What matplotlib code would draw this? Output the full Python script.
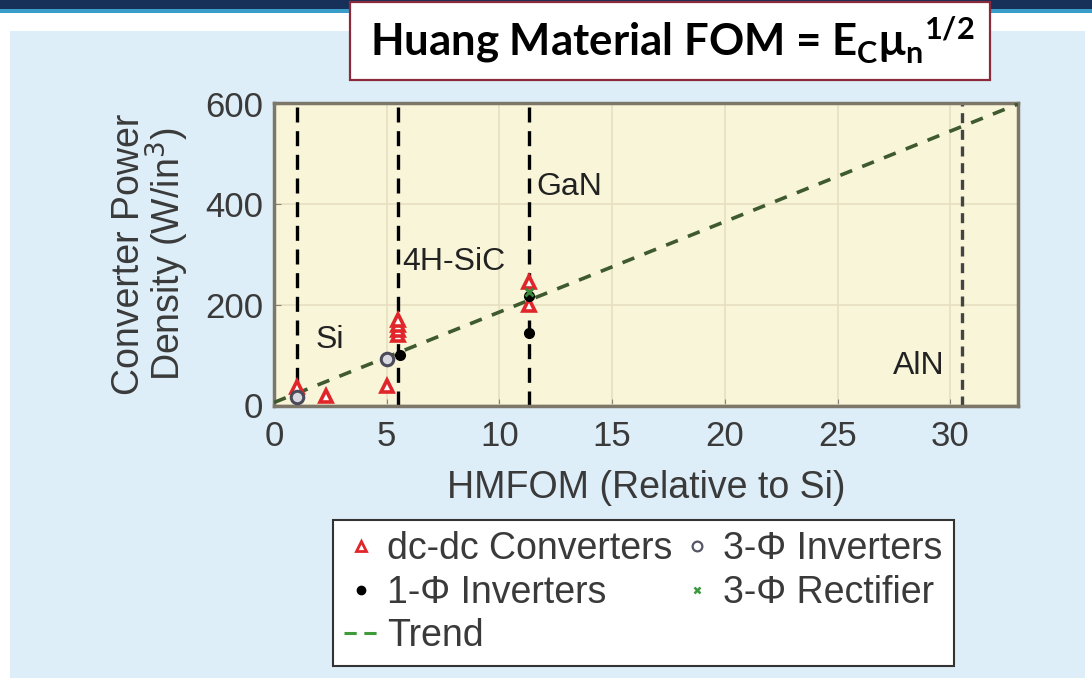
import matplotlib
matplotlib.use("Agg")
import matplotlib.pyplot as plt
from matplotlib.patches import Rectangle
from matplotlib.lines import Line2D

# ---------------- data ----------------
dcdc_x = [1.0, 2.3, 5.0, 5.5, 5.5, 5.5, 5.5, 11.3, 11.3]
dcdc_y = [35, 18, 38, 140, 150, 160, 170, 200, 245]
inv3_x = [1.0, 5.0]
inv3_y = [15, 92]
inv1_x = [5.6, 11.3, 11.3]
inv1_y = [100, 143, 218]
rect3_x = [11.3]
rect3_y = [226]
trend_x = [0, 33]
trend_y = [5, 600]
material_names = ["Si", "4H-SiC", "GaN", "AlN"]
material_x = [1.0, 5.5, 11.3, 30.5]
xticks = [0, 5, 10, 15, 20, 25, 30]
yticks = [0, 200, 400, 600]

plt.rcParams['font.family'] = ['Liberation Sans', 'DejaVu Sans']
txt = '#3a3a3a'
W, H = 1092, 678

fig = plt.figure(figsize=(10.92, 6.78), dpi=100)
fig.patch.set_facecolor('white')

# slide background decorations
fig.add_artist(Rectangle((0, 1 - 9 / H), 1, 9 / H, transform=fig.transFigure,
                         facecolor='#16305a', edgecolor='none', zorder=0))
fig.add_artist(Rectangle((0, 1 - 13 / H), 1, 4 / H, transform=fig.transFigure,
                         facecolor='#3a9cc8', edgecolor='none', zorder=0))
fig.add_artist(Rectangle((10 / W, 0), 1075 / W, 1 - 31 / H, transform=fig.transFigure,
                         facecolor='#deeef8', edgecolor='none', zorder=0))

ax = fig.add_axes([274 / W, 1 - 406 / H, (1018 - 274) / W, (406 - 103) / H])
ax.set_facecolor('#f8f5d9')
ax.set_xlim(0, 33)
ax.set_ylim(-2, 602)
ax.set_xticks(xticks)
ax.set_yticks(yticks)
ax.grid(True, color='#e6dfc0', lw=1.2)
ax.set_axisbelow(True)
for s in ax.spines.values():
    s.set_color('#7d776a')
    s.set_linewidth(2.5)
ax.tick_params(direction='in', length=5, color='#8a8478', labelsize=25, labelcolor=txt)
ax.tick_params(axis='x', pad=10)
ax.tick_params(axis='y', pad=8)

# vertical material lines
for name, xv in zip(material_names, material_x):
    if name == 'AlN':
        ax.axvline(xv, color='#444444', lw=2.4, dashes=(3.0, 2.0), zorder=2)
    else:
        ax.axvline(xv, color='black', lw=2.4, dashes=(4.5, 2.6), zorder=2)

# trend
ax.plot(trend_x, trend_y, color='#3f5a2e', lw=2.6, dashes=(3.5, 3.0), zorder=3)

# data markers
ax.plot(dcdc_x, dcdc_y, ls='none', marker='^', ms=9, mfc='white', mec='#e0262a', mew=2.6, zorder=4)
ax.plot(inv3_x, inv3_y, ls='none', marker='o', ms=9, mfc='#d8d8e0', mec='#4a4a5a', mew=2.2, zorder=4)
ax.plot(inv1_x, inv1_y, ls='none', marker='o', ms=7, mfc='black', mec='black', zorder=5)
ax.plot(rect3_x, rect3_y, ls='none', marker='x', ms=6, mec='#3a8a3a', mew=2, zorder=5)

# material labels
lab_fs = 23
ax.text(1.85, 130, 'Si', fontsize=lab_fs, color='#222222', ha='left', va='center')
ax.text(5.7, 285, '4H-SiC', fontsize=lab_fs, color='#222222', ha='left', va='center')
ax.text(11.65, 435, 'GaN', fontsize=lab_fs, color='#222222', ha='left', va='center')
ax.text(29.75, 77, 'AlN', fontsize=lab_fs, color='#222222', ha='right', va='center')

ax.set_xlabel('HMFOM (Relative to Si)', fontsize=27, color=txt, labelpad=12)
ax.set_ylabel('Converter Power\nDensity (W/in$^3$)', fontsize=27, color=txt, labelpad=10,
              linespacing=0.92)

# legend
h_dc = Line2D([], [], ls='none', marker='^', ms=7, mfc='white', mec='#e0262a', mew=2)
h_i1 = Line2D([], [], ls='none', marker='o', ms=6, mfc='black', mec='black')
h_tr = Line2D([], [], color='#3f9a3a', lw=2.2, dashes=(4, 2.5))
h_i3 = Line2D([], [], ls='none', marker='o', ms=7, mfc='white', mec='#555566', mew=1.6)
h_r3 = Line2D([], [], ls='none', marker='x', ms=5, mec='#3a9a3a', mew=1.8)
leg = fig.legend([h_dc, h_i1, h_tr, h_i3, h_r3],
                 ['dc-dc Converters', '1-Φ Inverters', 'Trend', '3-Φ Inverters', '3-Φ Rectifier'],
                 ncol=2, loc='upper left', bbox_to_anchor=(333 / W, 1 - 520 / H),
                 bbox_transform=fig.transFigure, fontsize=27, frameon=True, fancybox=False,
                 handlelength=0.9, handletextpad=0.25, columnspacing=0.2, labelspacing=0.2,
                 borderpad=0.3, borderaxespad=0)
for t in leg.get_texts():
    t.set_color(txt)
leg.get_frame().set_edgecolor('#333333')
leg.get_frame().set_linewidth(1.5)
leg.get_frame().set_facecolor('white')
leg.get_frame().set_alpha(1)

# title box
fig.add_artist(Rectangle((350 / W, 1 - 80 / H), 640 / W, 78 / H, transform=fig.transFigure,
                         facecolor='white', edgecolor='#8b2a3a', lw=1.6, zorder=5))
fig.text(672 / W, 1 - 40 / H,
         r'Huang Material FOM = E$_\mathregular{C}$μ$_\mathregular{n}$$^\mathregular{1/2}$',
         ha='center', va='center', fontsize=31.5, fontweight='bold', family=['Lato', 'DejaVu Sans'],
         color='black', zorder=6)

fig.savefig('out.png', dpi=100, facecolor=fig.get_facecolor())
